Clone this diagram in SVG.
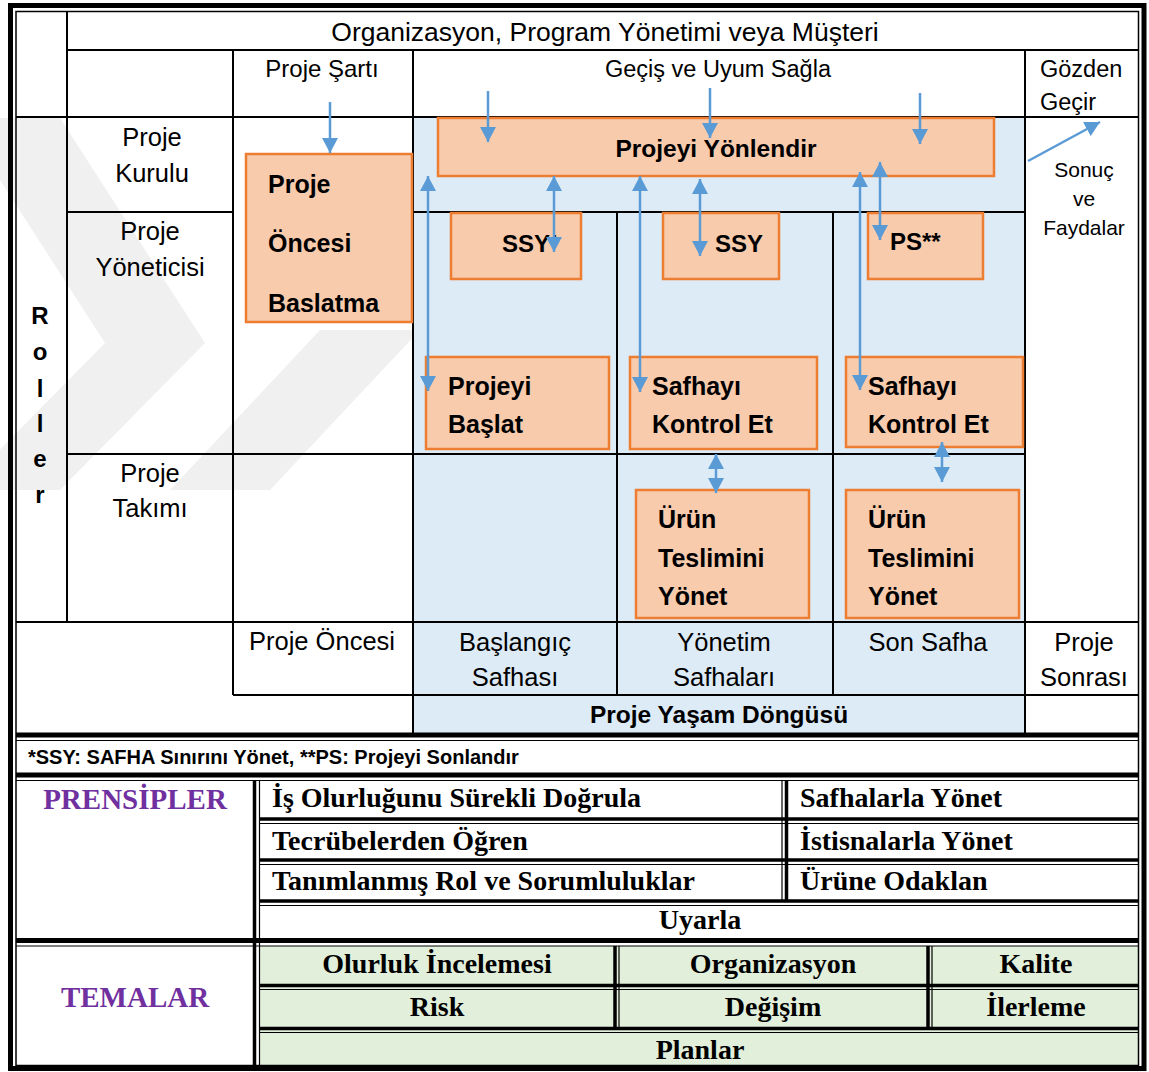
<svg xmlns="http://www.w3.org/2000/svg" width="1149" height="1072" viewBox="0 0 1149 1072">
  <defs>
    <style>
      .t{font-family:"Liberation Sans",Arial,sans-serif;fill:#000}
      .r{font-size:25px}
      .b{font-weight:bold;font-size:25px}
      .s{font-family:"Liberation Serif","Times New Roman",serif;font-weight:bold;font-size:28px;fill:#000}
      .p{fill:#7030A0;font-size:29px}
      .c{text-anchor:middle}
      .grid{stroke:#000;stroke-width:2;fill:none}
      .box{fill:#F8CBAD;stroke:#ED7D31;stroke-width:2.5}
      .arr{stroke:#5B9BD5;stroke-width:2.5;fill:none}
      .tk{stroke:#000;stroke-width:3.5;fill:none}
      .tn{stroke:#000;stroke-width:1.2;fill:none}
      .wm{fill:#F0F0F0}
    </style>
    <marker id="head" viewBox="0 0 15 16" refX="15" refY="8" markerWidth="15" markerHeight="16" markerUnits="userSpaceOnUse" orient="auto-start-reverse">
      <path d="M0,0 L15,8 L0,16 Z" fill="#5B9BD5"/>
    </marker>
  </defs>

  <rect width="1149" height="1072" fill="#fff"/>

  <!-- faint background mark -->
  <g id="backmark">
    <path class="wm" d="M-40,118 L60,118 L205,343 L60,490 L-40,490 L105,343 Z"/>
    <path class="wm" d="M170,490 L270,490 L420,330 L320,330 Z"/>
  </g>

  <!-- life-cycle band -->
  <rect x="413" y="117" width="612" height="616" fill="#DDEBF7"/>

  <!-- upper grid -->
  <g id="grid" class="grid">
    <line x1="67" y1="50" x2="1139" y2="50"/>
    <line x1="16" y1="117" x2="1139" y2="117"/>
    <line x1="67" y1="212" x2="233" y2="212"/>
    <line x1="413" y1="212" x2="1025" y2="212"/>
    <line x1="67" y1="454" x2="1025" y2="454"/>
    <line x1="16" y1="622" x2="1139" y2="622"/>
    <line x1="233" y1="695" x2="1139" y2="695"/>
    <line x1="67" y1="11" x2="67" y2="622"/>
    <line x1="233" y1="50" x2="233" y2="695"/>
    <line x1="413" y1="50" x2="413" y2="733"/>
    <line x1="617" y1="212" x2="617" y2="695"/>
    <line x1="833" y1="212" x2="833" y2="695"/>
    <line x1="1025" y1="50" x2="1025" y2="733"/>
  </g>

  <!-- header and axis labels -->
  <g id="headers">
    <text class="t c" x="605" y="41" style="font-size:26.5px">Organizasyon, Program Yönetimi veya Müşteri</text>
    <text class="t r c" x="322" y="77" style="font-size:24px">Proje Şartı</text>
    <text class="t r c" x="718" y="77" style="font-size:23.5px">Geçiş ve Uyum Sağla</text>
    <text class="t r" x="1040" y="77" style="font-size:23.5px">Gözden</text>
    <text class="t r" x="1040" y="110" style="font-size:23.5px">Geçir</text>
    <g class="t c" style="font-size:21px">
      <text x="1084" y="177">Sonuç</text>
      <text x="1084" y="206">ve</text>
      <text x="1084" y="235">Faydalar</text>
    </g>
    <g class="t r c" style="font-size:25.5px">
      <text x="152" y="146">Proje</text>
      <text x="152" y="182">Kurulu</text>
      <text x="150" y="240">Proje</text>
      <text x="150" y="276">Yöneticisi</text>
      <text x="150" y="482">Proje</text>
      <text x="150" y="517">Takımı</text>
    </g>
    <g class="t b c" style="font-size:24px">
      <text x="40" y="324">R</text>
      <text x="40" y="360">o</text>
      <text x="40" y="397">l</text>
      <text x="40" y="432">l</text>
      <text x="40" y="467">e</text>
      <text x="40" y="503">r</text>
    </g>
    <g class="t r c" style="font-size:25.5px">
      <text x="322" y="650">Proje Öncesi</text>
      <text x="515" y="651">Başlangıç</text>
      <text x="515" y="686">Safhası</text>
      <text x="724" y="651">Yönetim</text>
      <text x="724" y="686">Safhaları</text>
      <text x="928" y="651">Son Safha</text>
      <text x="1084" y="651">Proje</text>
      <text x="1084" y="686">Sonrası</text>
    </g>
    <text class="t b c" x="719" y="723" style="font-size:24.5px">Proje Yaşam Döngüsü</text>
  </g>

  <!-- process nodes -->
  <g id="node-oncesi">
    <rect class="box" x="246" y="154" width="166" height="168"/>
    <text class="t b" x="268" y="193">Proje</text>
    <text class="t b" x="268" y="252">Öncesi</text>
    <text class="t b" x="268" y="312">Baslatma</text>
  </g>
  <g id="node-yonlendir">
    <rect class="box" x="438" y="118" width="556" height="58"/>
    <text class="t b c" x="716" y="157" style="font-size:24.5px">Projeyi Yönlendir</text>
  </g>
  <g id="node-ssy1">
    <rect class="box" x="451" y="213" width="130" height="66"/>
    <text class="t b" x="502" y="252" style="font-size:24px">SSY*</text>
  </g>
  <g id="node-ssy2">
    <rect class="box" x="663" y="213" width="116" height="66"/>
    <text class="t b" x="715" y="252" style="font-size:24px">SSY</text>
  </g>
  <g id="node-ps">
    <rect class="box" x="868" y="213" width="115" height="66"/>
    <text class="t b" x="890" y="250" style="font-size:24px">PS**</text>
  </g>
  <g id="node-baslat">
    <rect class="box" x="426" y="357" width="183" height="92"/>
    <text class="t b" x="448" y="395">Projeyi</text>
    <text class="t b" x="448" y="433">Başlat</text>
  </g>
  <g id="node-kontrol1">
    <rect class="box" x="630" y="357" width="187" height="92"/>
    <text class="t b" x="652" y="395">Safhayı</text>
    <text class="t b" x="652" y="433">Kontrol Et</text>
  </g>
  <g id="node-kontrol2">
    <rect class="box" x="846" y="357" width="177" height="90"/>
    <text class="t b" x="868" y="395">Safhayı</text>
    <text class="t b" x="868" y="433">Kontrol Et</text>
  </g>
  <g id="node-urun1">
    <rect class="box" x="636" y="490" width="173" height="128"/>
    <text class="t b" x="658" y="528">Ürün</text>
    <text class="t b" x="658" y="567">Teslimini</text>
    <text class="t b" x="658" y="605">Yönet</text>
  </g>
  <g id="node-urun2">
    <rect class="box" x="846" y="490" width="173" height="128"/>
    <text class="t b" x="868" y="528">Ürün</text>
    <text class="t b" x="868" y="567">Teslimini</text>
    <text class="t b" x="868" y="605">Yönet</text>
  </g>

  <!-- connectors -->
  <g id="connectors" class="arr">
    <line x1="330" y1="102" x2="330" y2="153" marker-end="url(#head)"/>
    <line x1="488" y1="91" x2="488" y2="142" marker-end="url(#head)"/>
    <line x1="710" y1="88" x2="710" y2="138" marker-end="url(#head)"/>
    <line x1="920" y1="93" x2="920" y2="144" marker-end="url(#head)"/>
    <line x1="428" y1="176" x2="428" y2="391" marker-start="url(#head)" marker-end="url(#head)"/>
    <line x1="554" y1="176" x2="554" y2="252" marker-start="url(#head)" marker-end="url(#head)"/>
    <line x1="640" y1="176" x2="640" y2="392" marker-start="url(#head)" marker-end="url(#head)"/>
    <line x1="700" y1="179" x2="700" y2="256" marker-start="url(#head)" marker-end="url(#head)"/>
    <line x1="860" y1="172" x2="860" y2="390" marker-start="url(#head)" marker-end="url(#head)"/>
    <line x1="880" y1="162" x2="880" y2="240" marker-start="url(#head)" marker-end="url(#head)"/>
    <line x1="716" y1="454" x2="716" y2="493" marker-start="url(#head)" marker-end="url(#head)"/>
    <line x1="942" y1="442" x2="942" y2="482" marker-start="url(#head)" marker-end="url(#head)"/>
    <line x1="1028" y1="161" x2="1100" y2="122" marker-end="url(#head)"/>
  </g>

  <!-- footnote row -->
  <g id="footnote">
    <text class="t" x="28" y="764" style="font-weight:bold;font-size:20px">*SSY: SAFHA Sınırını Yönet, **PS: Projeyi Sonlandır</text>
  </g>

  <!-- themes fill -->
  <rect x="259" y="946" width="879" height="120" fill="#E2EFDA"/>

  <!-- principles and themes tables -->
  <g id="tables">
    <line class="tk" x1="16" y1="735" x2="1139" y2="735" style="stroke-width:5"/>
    <line class="tn" x1="16" y1="740.5" x2="1139" y2="740.5"/>
    <line class="tk" x1="16" y1="775" x2="1139" y2="775" style="stroke-width:5"/>
    <line class="tn" x1="16" y1="780.5" x2="1139" y2="780.5"/>
    <line class="tk" x1="16" y1="940.5" x2="1139" y2="940.5" style="stroke-width:5"/>
    <line class="tn" x1="16" y1="946" x2="1139" y2="946"/>

    <line class="tk" x1="254.5" y1="780" x2="254.5" y2="1066"/>
    <line class="tn" x1="259.5" y1="780" x2="259.5" y2="1066"/>

    <line class="tn" x1="782" y1="780" x2="782" y2="901"/>
    <line class="tk" x1="786.5" y1="780" x2="786.5" y2="901"/>
    <line class="tk" x1="259" y1="819" x2="1139" y2="819"/>
    <line class="tn" x1="259" y1="823.5" x2="1139" y2="823.5"/>
    <line class="tk" x1="259" y1="860" x2="1139" y2="860"/>
    <line class="tn" x1="259" y1="864.5" x2="1139" y2="864.5"/>
    <line class="tk" x1="259" y1="901" x2="1139" y2="901"/>
    <line class="tn" x1="259" y1="905.5" x2="1139" y2="905.5"/>

    <line class="tk" x1="615" y1="946" x2="615" y2="1030"/>
    <line class="tn" x1="619" y1="946" x2="619" y2="1030"/>
    <line class="tk" x1="928" y1="946" x2="928" y2="1030"/>
    <line class="tn" x1="932" y1="946" x2="932" y2="1030"/>
    <line class="tk" x1="259" y1="985.5" x2="1139" y2="985.5"/>
    <line class="tn" x1="259" y1="989.5" x2="1139" y2="989.5"/>
    <line class="tk" x1="259" y1="1028.5" x2="1139" y2="1028.5"/>
    <line class="tn" x1="259" y1="1032.5" x2="1139" y2="1032.5"/>
  </g>

  <g id="principles">
    <text class="s p c" x="135" y="809">PRENSİPLER</text>
    <text class="s" x="272" y="807">İş Olurluğunu Sürekli Doğrula</text>
    <text class="s" x="800" y="807">Safhalarla Yönet</text>
    <text class="s" x="272" y="850">Tecrübelerden Öğren</text>
    <text class="s" x="800" y="850">İstisnalarla Yönet</text>
    <text class="s" x="272" y="890">Tanımlanmış Rol ve Sorumluluklar</text>
    <text class="s" x="800" y="890">Ürüne Odaklan</text>
    <text class="s c" x="700" y="929">Uyarla</text>
  </g>

  <g id="themes">
    <text class="s p c" x="135" y="1007">TEMALAR</text>
    <text class="s c" x="437" y="973">Olurluk İncelemesi</text>
    <text class="s c" x="773" y="973">Organizasyon</text>
    <text class="s c" x="1036" y="973">Kalite</text>
    <text class="s c" x="437" y="1016">Risk</text>
    <text class="s c" x="773" y="1016">Değişim</text>
    <text class="s c" x="1036" y="1016">İlerleme</text>
    <text class="s c" x="700" y="1059">Planlar</text>
  </g>

  <!-- page frame -->
  <g id="frame">
    <rect x="10.5" y="5.5" width="1133.5" height="1063" fill="none" stroke="#000" stroke-width="5"/>
    <rect x="16" y="11.5" width="1122.5" height="1054" fill="none" stroke="#000" stroke-width="1.5"/>
  </g>
</svg>
